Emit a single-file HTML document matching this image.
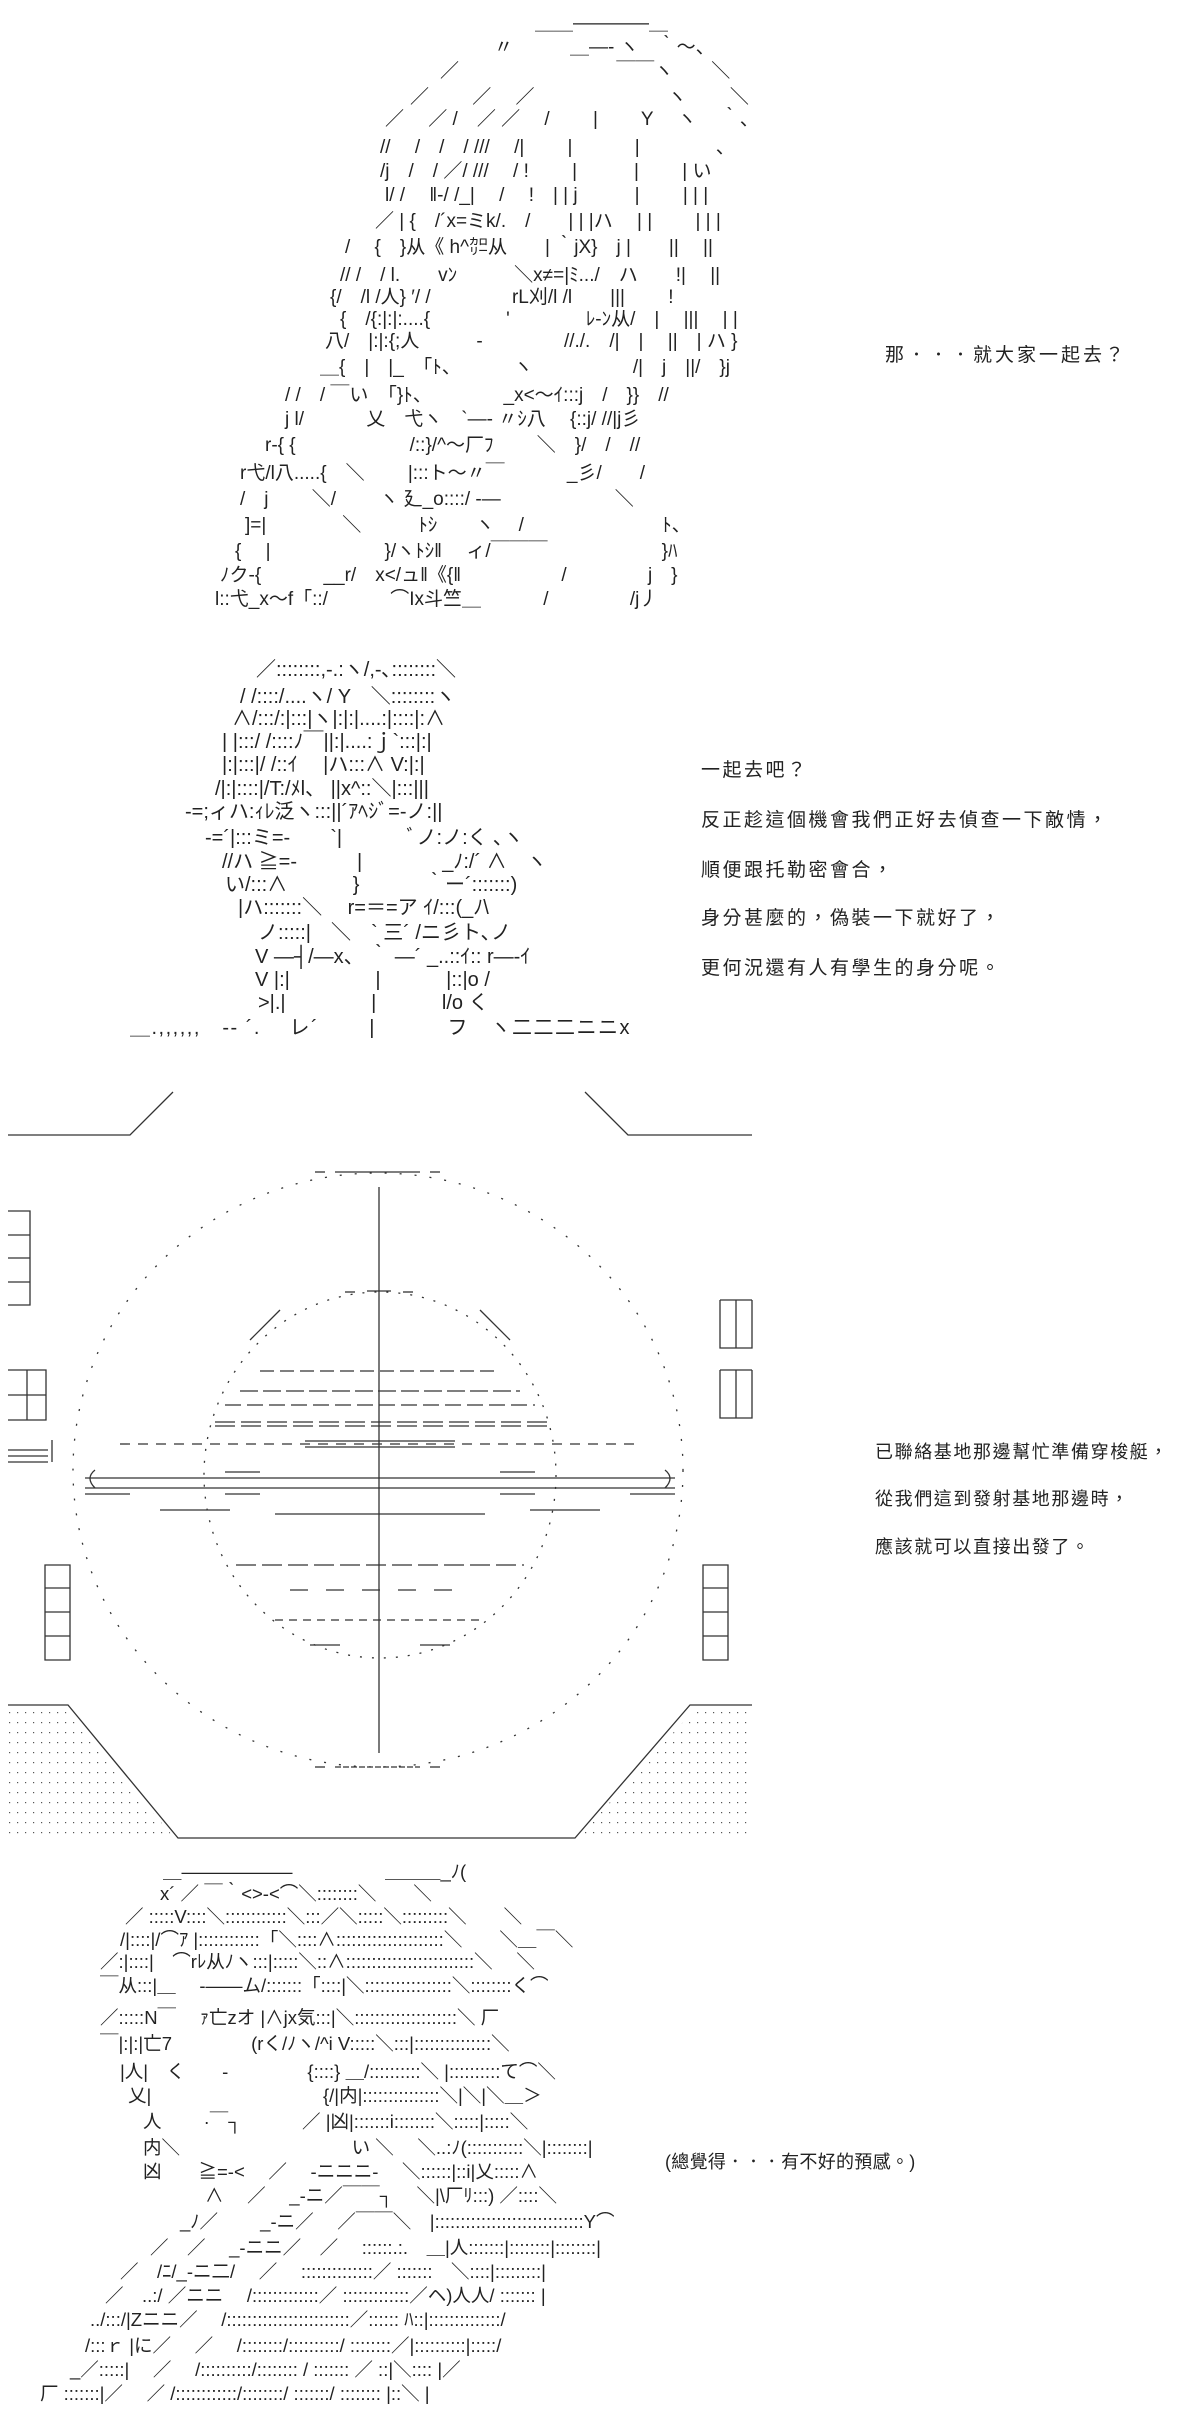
<!DOCTYPE html>
<html><head><meta charset="utf-8">
<style>
html,body{margin:0;padding:0;background:#fff;}
body{width:1200px;height:2418px;position:relative;overflow:hidden;}
.a{position:absolute;white-space:pre;font-family:"Liberation Sans","Noto Sans CJK JP",sans-serif;font-size:20px;line-height:24px;color:#222;}
.f1 .a{font-size:19px;}
.f4 .a{font-size:18.5px;}
.t{position:absolute;white-space:pre;font-family:"Liberation Sans","Noto Sans CJK TC",sans-serif;color:#222;}
svg{position:absolute;left:0;top:0;}
</style></head><body>

<div class="f1">
<div class="a" style="left:535px;top:12px">＿＿――――＿</div>
<div class="a" style="left:494px;top:36px">〃　　　＿―‐ ヽ　｀～、</div>
<div class="a" style="left:440px;top:60px">／　　　　　　　　 ￣￣ヽ　　＼</div>
<div class="a" style="left:410px;top:86px">／　　 ／　 ／　　　　　　　ヽ　　 ＼</div>
<div class="a" style="left:385px;top:108px">／　 ／ /　／ ／　 /　　 |　　 Y　 ヽ　 ｀、</div>
<div class="a" style="left:380px;top:136px">//　 /　/　/ ///　 /|　　 |　　　 |　　　　、</div>
<div class="a" style="left:380px;top:160px">/j　/　/ ／/ ///　 / !　　 |　　　|　　 | い</div>
<div class="a" style="left:385px;top:184px">l/ /　 ‖-/ /_|　 /　 !　| | j　　　|　　 | | |</div>
<div class="a" style="left:375px;top:210px">／ | {　/´x=ミk/.　/　　| | |ハ　 | |　　 | | |</div>
<div class="a" style="left:345px;top:236px">/　 {　}从《 h^㌍从　　| ｀jX}　j |　　|| 　||</div>
<div class="a" style="left:340px;top:264px">// /　/ l.　　vﾝ　　　＼x≠=|ﾐ.../　ハ　　!|　 ||</div>
<div class="a" style="left:330px;top:286px">{/　/l /人} ′/ /　　　　 rL刈/l /l　　|||　　 !</div>
<div class="a" style="left:340px;top:308px">{　/{:|:|:....{　　　　'　　　　ﾚ-ﾝ从/　|　 |||　 | |</div>
<div class="a" style="left:325px;top:330px">八/　|:|:{;人　　　-　　　　 //./.　/|　|　 ||　| ハ }</div>
<div class="a" style="left:320px;top:356px">＿{　|　|_　「ﾄ、　　　 ヽ　　　　　 /|　j　||/　}j</div>
<div class="a" style="left:285px;top:384px">/ /　/ ￣い　「}ﾄ、　　　　 _x&lt;～ｲ:::j　/　}}　//</div>
<div class="a" style="left:285px;top:408px">j l/　　　 乂　弋ヽ　`―‐ 〃ｼ八　 {::j/ //|j彡</div>
<div class="a" style="left:265px;top:434px">r-{ {　　　　　　/::}/^～厂ﾌ　　 ＼　}/　/　//</div>
<div class="a" style="left:240px;top:462px">r弋/l八.....{　＼　　 |:::ト～〃￣　　　 _彡/　　/</div>
<div class="a" style="left:240px;top:488px">/　j　　 ＼/　　 ヽ 廴_o::::/ -―　　　　　　＼</div>
<div class="a" style="left:245px;top:514px">]=|　　　　＼　　　ﾄｼ　　ヽ　 /　　　　　　　 ﾄ、</div>
<div class="a" style="left:235px;top:540px">{　 |　　　　　　}/ヽﾄｼ‖　 ィ/￣￣￣　　　　　　}ﾊ</div>
<div class="a" style="left:220px;top:564px">ﾉク-{　　　 __r/　x&lt;/ュ‖《{‖　　　　　 /　　　　 j　}</div>
<div class="a" style="left:215px;top:588px">l::弋_x～f「::/　　　 ⌒Ix斗竺＿　　　 /　　　　 /j丿</div>
</div>
<div class="t" style="left:885px;top:340px;font-size:19px;letter-spacing:3px">那．．．就大家一起去？</div>

<div class="a" style="left:256px;top:658px">／::::::::,-.:ヽ/,-､::::::::＼</div>
<div class="a" style="left:240px;top:685px">/ /::::/....ヽ/ Y　＼::::::::ヽ</div>
<div class="a" style="left:232px;top:707px">∧/:::/:|:::|ヽ|:|:|....:|::::|:∧</div>
<div class="a" style="left:222px;top:730px">| |:::/ /::::ﾉ￣||:|....:ｊ`:::|:|</div>
<div class="a" style="left:222px;top:753px">|:|:::|/ /::ｲ　 |ハ:::∧ V:|:|</div>
<div class="a" style="left:215px;top:777px">/|:|::::|/T:/ﾒl、 ||x^::＼|:::|||</div>
<div class="a" style="left:185px;top:800px">-=;ィハ:ｨﾚ泛ヽ:::||´ｱﾍｼﾞ=-ノ:||</div>
<div class="a" style="left:205px;top:826px">-=´|:::ミ=-　　`|　　　 ﾞノ:ノ:く ､ヽ</div>
<div class="a" style="left:222px;top:850px">//ハ ≧=-　　　|　　　　_ﾉ:/´ ∧　ヽ</div>
<div class="a" style="left:225px;top:873px">い/:::∧　　　 }　　　 ｀ー´:::::::)</div>
<div class="a" style="left:238px;top:896px">|ハ:::::::＼　 r=＝=ア ｲ/:::(_ﾉ\</div>
<div class="a" style="left:258px;top:921px">ノ:::::|　＼　` 三´ /ニ彡ト､ノ</div>
<div class="a" style="left:255px;top:945px">V ―┤/―x、 ｀ ―´ _..::ｲ:: r―‐ｲ</div>
<div class="a" style="left:255px;top:968px">V |:|　　　　 |　　　 |::|o /</div>
<div class="a" style="left:258px;top:991px">&gt;|.|　　　　 |　　　 l/o く</div>
<div class="a" style="left:130px;top:1016px;letter-spacing:1.5px">＿.,,,,,,　-‐ ´.　 レ´　　 |　　　 フ　ヽ二二二ニニx</div>
<div class="t" style="left:701px;top:755px;font-size:19px;letter-spacing:2.5px">一起去吧？</div>
<div class="t" style="left:701px;top:805px;font-size:19px;letter-spacing:2.5px">反正趁這個機會我們正好去偵查一下敵情，</div>
<div class="t" style="left:701px;top:855px;font-size:19px;letter-spacing:2.5px">順便跟托勒密會合，</div>
<div class="t" style="left:701px;top:903px;font-size:19px;letter-spacing:2.5px">身分甚麼的，偽裝一下就好了，</div>
<div class="t" style="left:701px;top:953px;font-size:19px;letter-spacing:2.5px">更何況還有人有學生的身分呢。</div>

<svg width="1200" height="2418" viewBox="0 0 1200 2418">
<defs>
<pattern id="dots" width="8" height="10" patternUnits="userSpaceOnUse"><rect x="1" y="2" width="1.2" height="1.2" fill="#555"/></pattern>
</defs>
<g stroke="#333" fill="none" stroke-width="1.3">
<polyline points="8,1135 130,1135 173,1092"/>
<polyline points="585,1092 628,1135 752,1135"/>
<ellipse cx="378" cy="1470" rx="305" ry="297" stroke-dasharray="2 13"/>
<ellipse cx="380" cy="1475" rx="176" ry="183" stroke-dasharray="2 10"/>
<line x1="379" y1="1187" x2="379" y2="1753"/>
<line x1="335" y1="1172" x2="420" y2="1172"/>
<line x1="315" y1="1172" x2="325" y2="1172"/>
<line x1="430" y1="1172" x2="440" y2="1172"/>
<line x1="335" y1="1767" x2="420" y2="1767" stroke-dasharray="6 2"/>
<line x1="315" y1="1767" x2="325" y2="1767"/>
<line x1="430" y1="1767" x2="440" y2="1767"/>
<line x1="367" y1="1291" x2="391" y2="1291"/>
<line x1="345" y1="1292" x2="355" y2="1292"/><line x1="403" y1="1292" x2="413" y2="1292"/>
<line x1="250" y1="1340" x2="280" y2="1310"/><line x1="480" y1="1310" x2="510" y2="1340"/>
<line x1="260" y1="1371" x2="500" y2="1371" stroke-dasharray="14 6"/>
<line x1="240" y1="1391" x2="520" y2="1391" stroke-dasharray="18 5"/>
<line x1="225" y1="1405" x2="535" y2="1405" stroke-dasharray="16 6"/>
<line x1="215" y1="1422" x2="550" y2="1422" stroke-dasharray="20 6"/>
<line x1="215" y1="1426" x2="550" y2="1426" stroke-dasharray="20 6"/>
<line x1="120" y1="1444" x2="640" y2="1444" stroke-dasharray="10 8"/>
<line x1="305" y1="1441" x2="455" y2="1441"/>
<line x1="305" y1="1447" x2="455" y2="1447"/>
<line x1="85" y1="1478" x2="675" y2="1478"/>
<line x1="85" y1="1488" x2="675" y2="1488"/>
<line x1="225" y1="1472" x2="260" y2="1472"/><line x1="500" y1="1472" x2="535" y2="1472"/>
<line x1="225" y1="1494" x2="260" y2="1494"/><line x1="500" y1="1494" x2="535" y2="1494"/>
<line x1="85" y1="1494" x2="130" y2="1494"/><line x1="630" y1="1494" x2="675" y2="1494"/>
<line x1="160" y1="1510" x2="230" y2="1510"/><line x1="530" y1="1510" x2="600" y2="1510"/>
<line x1="275" y1="1514" x2="485" y2="1514"/>
<line x1="236" y1="1565" x2="524" y2="1565" stroke-dasharray="20 6"/>
<line x1="290" y1="1590" x2="470" y2="1590" stroke-dasharray="18 18"/>
<line x1="275" y1="1620" x2="485" y2="1620" stroke-dasharray="8 6"/>
<line x1="310" y1="1645" x2="340" y2="1645"/><line x1="420" y1="1645" x2="450" y2="1645"/>
<path d="M95,1470 q-10,8 0,18" /><path d="M665,1470 q10,8 0,18"/>
<path d="M8,1211 h22 v94 h-22 M8,1235 h22 M8,1258 h22 M8,1282 h22"/>
<path d="M8,1370 h38 v50 h-38 M8,1395 h38 M27,1370 v50"/>
<path d="M8,1450 h40 M8,1456 h40 M8,1462 h40 M52,1440 v22"/>
<path d="M45,1565 h25 v95 h-25 z M45,1588 h25 M45,1612 h25 M45,1636 h25"/>
<path d="M720,1300 h32 M720,1300 v48 h32 v-48 M736,1300 v48"/>
<path d="M720,1370 h32 M720,1370 v48 h32 v-48 M736,1370 v48"/>
<path d="M703,1565 h25 v95 h-25 z M703,1588 h25 M703,1612 h25 M703,1636 h25"/>
<polyline points="8,1705 68,1705 178,1838 575,1838 690,1705 752,1705"/>
</g>
<polygon points="8,1712 66,1712 172,1835 8,1835" fill="url(#dots)"/>
<polygon points="752,1712 692,1712 580,1835 752,1835" fill="url(#dots)"/>
</svg>
<div class="t" style="left:875px;top:1438px;font-size:18px;letter-spacing:1.6px">已聯絡基地那邊幫忙準備穿梭艇，</div>
<div class="t" style="left:875px;top:1485px;font-size:18px;letter-spacing:1.6px">從我們這到發射基地那邊時，</div>
<div class="t" style="left:875px;top:1533px;font-size:18px;letter-spacing:1.6px">應該就可以直接出發了。</div>

<div class="f4">
<div class="a" style="left:163px;top:1860px">＿――――――　　　　　＿＿＿_ﾉ(</div>
<div class="a" style="left:160px;top:1882px">x´ ／ ￣｀&lt;&gt;‐&lt;⌒＼::::::::＼　　＼</div>
<div class="a" style="left:125px;top:1905px">／ :::::V::::＼::::::::::::＼:::／＼:::::＼:::::::::＼　　＼</div>
<div class="a" style="left:120px;top:1928px">/|::::|/⌒ｱ |::::::::::::「＼::::∧:::::::::::::::::::::＼　　＼＿￣＼</div>
<div class="a" style="left:100px;top:1950px">／:|::::|　⌒rﾚ从ﾉヽ:::|:::::＼::∧:::::::::::::::::::::::::＼　 ＼</div>
<div class="a" style="left:100px;top:1974px">￣从:::|＿　 -――ム/:::::::「::::|＼:::::::::::::::::＼::::::::く⌒</div>
<div class="a" style="left:100px;top:2006px">／:::::N￣　 ｧ亡zオ |∧jx気:::|＼::::::::::::::::::::＼ 厂</div>
<div class="a" style="left:100px;top:2032px">￣|:|:|亡7　　　　 (rく/ﾉヽ/^i V:::::＼:::|:::::::::::::::＼</div>
<div class="a" style="left:120px;top:2060px">|人|　く　　-　　　　 {::::} ＿/::::::::::＼ |::::::::::て⌒＼</div>
<div class="a" style="left:128px;top:2084px">乂|　　　　　　　　　 {/|内|:::::::::::::::＼|＼|＼＿＞</div>
<div class="a" style="left:143px;top:2110px">人　　 ·￣┐　　　 ／ |凶|:::::::i::::::::＼:::::|:::::＼</div>
<div class="a" style="left:143px;top:2136px">内＼　　　　　　　　　 い ＼　 ＼..:ﾉ(:::::::::::＼|::::::::|</div>
<div class="a" style="left:143px;top:2160px">凶　　≧=-&lt;　 ／　 -ニニニ-　 ＼::::::|::i|乂:::::∧</div>
<div class="a" style="left:205px;top:2184px">∧　 ／　 _-ニ／￣￣┐　 ＼|\厂ﾘ:::) ／::::＼</div>
<div class="a" style="left:180px;top:2210px">_ﾉ／　　 _-ニ／　 ／￣￣＼　|:::::::::::::::::::::::::::::Y⌒</div>
<div class="a" style="left:150px;top:2236px">／　／　 _-ニニ／　／　 ::::::.:.　＿|人:::::::|::::::::|::::::::|</div>
<div class="a" style="left:120px;top:2260px">／　/ﾆ/_-ニ二/　 ／　 ::::::::::::::／ :::::::　＼::::|:::::::::|</div>
<div class="a" style="left:105px;top:2284px">／　..:/ ／ニニ　 /:::::::::::::／ :::::::::::::／ヘ)人人/ ::::::: |</div>
<div class="a" style="left:90px;top:2308px">../:::/|Zニニ／　 /::::::::::::::::::::::::／:::::: ﾊ::|::::::::::::::/</div>
<div class="a" style="left:85px;top:2334px">/:::ｒ |に／　 ／　 /::::::::/::::::::::/ ::::::::／|::::::::::|:::::/</div>
<div class="a" style="left:70px;top:2358px">_／:::::|　 ／　 /::::::::::/:::::::: / ::::::: ／ ::|＼:::: |／</div>
<div class="a" style="left:40px;top:2382px">厂 :::::::|／　 ／ /::::::::::::/::::::::/ :::::::/ :::::::: |::＼ |</div>
</div>
<div class="t" style="left:665px;top:2148px;font-size:18px;letter-spacing:0.3px">(總覺得．．．有不好的預感。)</div>

</body></html>
